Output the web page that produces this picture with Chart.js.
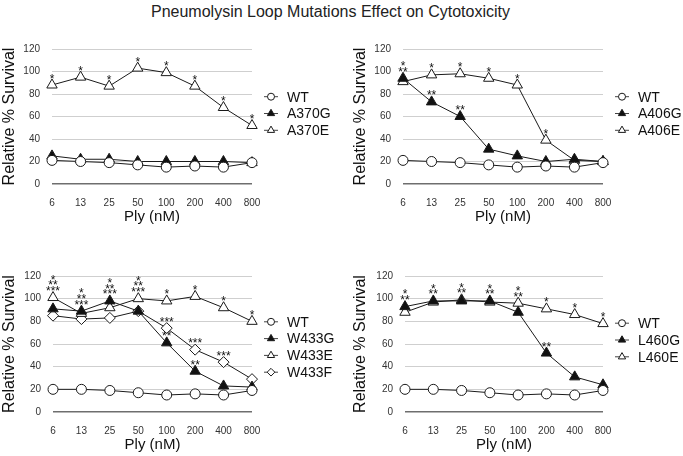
<!DOCTYPE html>
<html>
<head>
<meta charset="utf-8">
<script src="https://cdn.jsdelivr.net/npm/chart.js@4.4.1/dist/chart.umd.min.js"></script>
<style>
  body { margin: 0; background: #fff; width: 683px; height: 456px; position: relative; overflow: hidden;
         font-family: "Liberation Sans", Arial, sans-serif; }
  #title { position: absolute; left: 0; top: 0; width: 661px; line-height: 24px; text-align: center;
           font-size: 16px; color: #222; }
  .box { position: absolute; }
</style>
</head>
<body>
<div id="title">Pneumolysin Loop Mutations Effect on Cytotoxicity</div>
<div class="box" style="left:0;top:28px"><canvas id="c1" width="341" height="200"></canvas></div>
<div class="box" style="left:341px;top:28px"><canvas id="c2" width="342" height="200"></canvas></div>
<div class="box" style="left:0;top:240px"><canvas id="c3" width="341" height="216"></canvas></div>
<div class="box" style="left:341px;top:240px"><canvas id="c4" width="342" height="216"></canvas></div>
<script>
// Ply concentration (nM) and y ticks
const doses = ['6', '13', '25', '50', '100', '200', '400', '800'];
const yMin = 0, yMax = 120, yStep = 20;

// A370 panel
const wt1 = [21, 20, 19, 17, 15, 16, 15, 19];
const a370g = [25, 22, 22, 20, 20, 20, 20, 19];
const a370e = [88, 95, 87, 103, 99, 87, 68, 52];
const a370eStars = ['*', '*', '*', '*', '*', '*', '*', '*'];

// A406 panel
const wt2 = [21, 20, 19, 17, 15, 16, 15, 19];
const a406g = [94, 73, 60, 31, 25, 20, 22, 20];
const a406e = [91, 97, 98, 94, 88, 39, 21, 20];
const a406gStars = ['*\n**', '**', '**', '', '', '', '', ''];
const a406eStars = ['', '*', '*', '*', '*', '*', '', ''];

// W433 panel
const wt3 = [20, 20, 19, 17, 15, 16, 15, 19];
const w433g = [91, 89, 98, 89, 61, 36, 23, 22];
const w433e = [101, 87, 92, 100, 98, 102, 92, 80];
const w433f = [85, 82, 83, 89, 74, 55, 44, 29];
const w433gStars = ['', '*\n**\n***', '*\n**\n***', '', '**', '**', '', ''];
const w433eStars = ['*\n**\n***', '', '', '*\n**\n***', '*', '*', '*', '*'];
const w433fStars = ['', '', '', '', '***', '***', '***', ''];

// L460 panel
const wt4 = [20, 20, 19, 17, 15, 16, 15, 19];
const l460g = [93, 98, 98, 98, 88, 52, 31, 24];
const l460e = [88, 97, 99, 97, 96, 91, 86, 78];
const l460gStars = ['*\n**', '*\n**', '', '*\n**', '', '**', '', ''];
const l460eStars = ['', '', '*\n**', '', '*\n**', '*', '*', '*'];

Chart.defaults.font.family = '"Liberation Sans", Arial, sans-serif';

const INK = '#1a1a1a';

function series(label, data, kind, stars) {
  const styles = {
    wt: { pointStyle: 'circle', radius: 5, fill: '#fff' },
    g: { pointStyle: 'triangle', radius: 6, fill: '#111' },
    e: { pointStyle: 'triangle', radius: 6, fill: '#fff' },
    f: { pointStyle: 'rectRot', radius: 5.5, fill: '#fff' }
  };
  const s = styles[kind];
  return {
    label: label,
    data: data,
    stars: stars || null,
    borderColor: INK,
    borderWidth: 1,
    pointStyle: s.pointStyle,
    pointRadius: s.radius,
    pointBackgroundColor: s.fill,
    pointBorderColor: INK,
    pointBorderWidth: 1,
    fill: false,
    tension: 0
  };
}

// asterisks above points
const starPlugin = {
  id: 'stars',
  afterDatasetsDraw(chart) {
    const ctx = chart.ctx;
    ctx.save();
    ctx.fillStyle = '#111';
    ctx.font = '12px "Liberation Sans", Arial, sans-serif';
    ctx.textAlign = 'center';
    ctx.textBaseline = 'alphabetic';
    chart.data.datasets.forEach((ds, i) => {
      if (!ds.stars) return;
      const meta = chart.getDatasetMeta(i);
      ds.stars.forEach((s, j) => {
        if (!s) return;
        const pt = meta.data[j];
        const lines = s.split('\n');
        for (let k = 0; k < lines.length; k++) {
          const line = lines[lines.length - 1 - k];
          ctx.fillText(line, pt.x, pt.y - 2.5 - k * 5.7);
        }
      });
    });
    ctx.restore();
  }
};

// legend to the right with a short line through each marker
const sideLegend = {
  id: 'sideLegend',
  afterDraw(chart) {
    const ctx = chart.ctx;
    const area = chart.chartArea;
    const sets = chart.data.datasets;
    const shift = chart.options.plugins.sideLegend.shift;
    const gap = 16.8;
    const mid = (area.top + area.bottom) / 2 + shift;
    const x0 = area.right + 19;
    ctx.save();
    sets.forEach((ds, i) => {
      const y = mid + (i - (sets.length - 1) / 2) * gap;
      ctx.strokeStyle = '#444';
      ctx.lineWidth = 1;
      ctx.beginPath();
      ctx.moveTo(x0 - 7, y);
      ctx.lineTo(x0 + 7, y);
      ctx.stroke();
      ctx.fillStyle = ds.pointBackgroundColor;
      ctx.strokeStyle = INK;
      Chart.helpers.drawPoint(ctx, {
        pointStyle: ds.pointStyle,
        radius: ds.pointRadius * 0.7,
        rotation: 0,
        borderWidth: 1
      }, x0, y);
      ctx.fillStyle = '#111';
      ctx.font = '14px "Liberation Sans", Arial, sans-serif';
      ctx.textAlign = 'left';
      ctx.textBaseline = 'middle';
      ctx.fillText(ds.label, area.right + 35, y + 1);
    });
    ctx.restore();
  }
};

function makePanel(id, datasets, p) {
  return new Chart(document.getElementById(id), {
    type: 'line',
    data: { labels: doses, datasets: datasets },
    options: {
      responsive: false,
      animation: false,
      devicePixelRatio: 1,
      layout: { padding: { left: 0, right: p.padRight, top: p.padTop, bottom: 0 } },
      plugins: {
        legend: { display: false },
        tooltip: { enabled: false },
        sideLegend: { shift: p.legendShift }
      },
      scales: {
        x: {
          offset: false,
          grid: { display: false },
          border: { display: false },
          ticks: { color: '#333', font: { size: 10 }, padding: 5, maxRotation: 0 },
          title: { display: true, text: 'Ply (nM)', color: '#111', font: { size: 15 }, padding: { top: 0, bottom: 2 } },
          afterFit: s => { s.height = 44; }
        },
        y: {
          min: yMin,
          max: yMax,
          border: { display: false },
          grid: {
            drawTicks: false,
            color: c => (c.tick.value === 0 ? '#6e6e6e' : '#cfcfcf'),
            lineWidth: c => (c.tick.value === 0 ? 1.5 : 1)
          },
          ticks: { stepSize: yStep, color: '#333', font: { size: 10 }, padding: 12 },
          title: { display: true, text: 'Relative % Survival', color: '#111', font: { size: 16 }, padding: { top: p.titlePad, bottom: 0 } },
          afterFit: s => { s.width = p.chartLeft; }
        }
      }
    },
    plugins: [starPlugin, sideLegend]
  });
}

makePanel('c1', [
  series('WT', wt1, 'wt'),
  series('A370G', a370g, 'g'),
  series('A370E', a370e, 'e', a370eStars)
], { chartLeft: 52, padRight: 89, padTop: 21, titlePad: 0, legendShift: -3 });

makePanel('c2', [
  series('WT', wt2, 'wt'),
  series('A406G', a406g, 'g', a406gStars),
  series('A406E', a406e, 'e', a406eStars)
], { chartLeft: 62, padRight: 80, padTop: 21, titlePad: 10, legendShift: -3 });

makePanel('c3', [
  series('WT', wt3, 'wt'),
  series('W433G', w433g, 'g', w433gStars),
  series('W433E', w433e, 'e', w433eStars),
  series('W433F', w433f, 'f', w433fStars)
], { chartLeft: 53, padRight: 89, padTop: 36, titlePad: 0, legendShift: 3 });

makePanel('c4', [
  series('WT', wt4, 'wt'),
  series('L460G', l460g, 'g', l460gStars),
  series('L460E', l460e, 'e', l460eStars)
], { chartLeft: 64, padRight: 80, padTop: 36, titlePad: 10, legendShift: -4 });
</script>
</body>
</html>
